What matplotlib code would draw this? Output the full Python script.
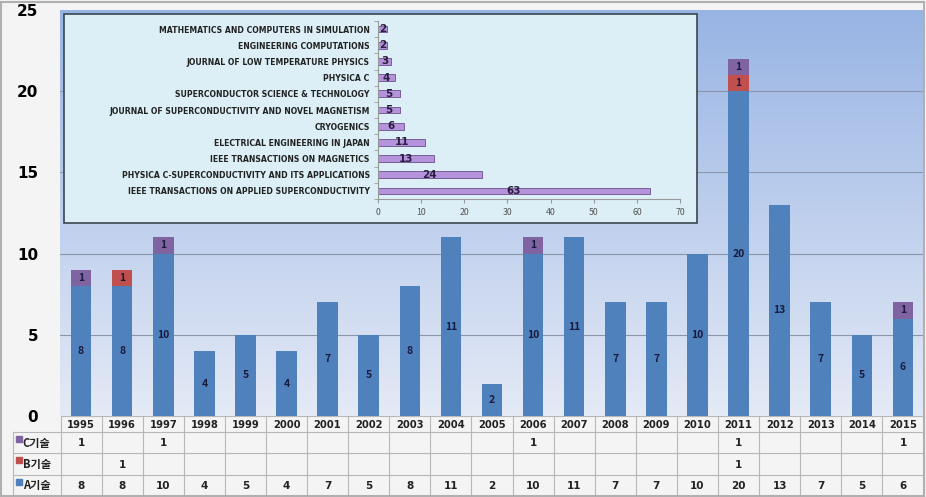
import numpy as np
import matplotlib.pyplot as plt
from matplotlib.patches import Rectangle

plt.rcParams['font.family'] = ['Noto Sans CJK KR', 'DejaVu Sans']

years = [str(y) for y in range(1995, 2016)]
a_vals = [8, 8, 10, 4, 5, 4, 7, 5, 8, 11, 2, 10, 11, 7, 7, 10, 20, 13, 7, 5, 6]
b_vals = [0, 1, 0, 0, 0, 0, 0, 0, 0, 0, 0, 0, 0, 0, 0, 0, 1, 0, 0, 0, 0]
c_vals = [1, 0, 1, 0, 0, 0, 0, 0, 0, 0, 0, 1, 0, 0, 0, 0, 1, 0, 0, 0, 1]
series_names = ['C기술', 'B기술', 'A기술']

journals = ['IEEE TRANSACTIONS ON APPLIED SUPERCONDUCTIVITY',
            'PHYSICA C-SUPERCONDUCTIVITY AND ITS APPLICATIONS',
            'IEEE TRANSACTIONS ON MAGNETICS',
            'ELECTRICAL ENGINEERING IN JAPAN',
            'CRYOGENICS',
            'JOURNAL OF SUPERCONDUCTIVITY AND NOVEL MAGNETISM',
            'SUPERCONDUCTOR SCIENCE & TECHNOLOGY',
            'PHYSICA C',
            'JOURNAL OF LOW TEMPERATURE PHYSICS',
            'ENGINEERING COMPUTATIONS',
            'MATHEMATICS AND COMPUTERS IN SIMULATION']
journal_counts = [63, 24, 13, 11, 6, 5, 5, 4, 3, 2, 2]

col_a = '#4f81bd'
col_b = '#c0504d'
col_c = '#8064a2'
txt_col = '#1a1a40'

W, H = 926, 497
fig = plt.figure(figsize=(W / 100, H / 100), dpi=100)
fig.patch.set_facecolor('#f4f4f4')
fig.patches.append(Rectangle((1 / W, 1 / H), 1 - 3 / W, 1 - 3 / H, transform=fig.transFigure,
                             fill=False, edgecolor='#b0b0b0', lw=1.5))

# main axes
x0, x1, ytop, ybot = 60.5, 923.5, 10, 416
ax = fig.add_axes([x0 / W, 1 - ybot / H, (x1 - x0) / W, (ybot - ytop) / H])
ax.set_facecolor('none')
grad = np.linspace(0, 1, 256).reshape(-1, 1)
top_rgb = np.array([0x98, 0xb4, 0xe4]) / 255
bot_rgb = np.array([0xe4, 0xea, 0xf6]) / 255
img = top_rgb * (1 - grad[..., None]) + bot_rgb * grad[..., None]
ax.imshow(img, extent=[0, 1, 0, 1], transform=ax.transAxes, aspect='auto', zorder=0)

x = np.arange(len(years))
a = np.array(a_vals)
b = np.array(b_vals)
c = np.array(c_vals)
ax.bar(x, a, 0.5, color=col_a, zorder=3)
ax.bar(x, b, 0.5, bottom=a, color=col_b, zorder=3)
ax.bar(x, c, 0.5, bottom=a + b, color=col_c, zorder=3)
for i in range(len(x)):
    ax.text(x[i], a[i] / 2, str(a[i]), ha='center', va='center', fontsize=7.5,
            fontweight='bold', color=txt_col, zorder=4)
    if b[i]:
        ax.text(x[i], a[i] + b[i] / 2, str(b[i]), ha='center', va='center', fontsize=7.5,
                fontweight='bold', color=txt_col, zorder=4)
    if c[i]:
        ax.text(x[i], a[i] + b[i] + c[i] / 2, str(c[i]), ha='center', va='center', fontsize=7.5,
                fontweight='bold', color=txt_col, zorder=4)

ax.set_xlim(-0.5, len(years) - 0.5)
ax.set_ylim(0, 25)
ax.set_yticks([0, 5, 10, 15, 20, 25])
ax.set_xticks([])
ax.tick_params(axis='y', length=0, labelsize=11, pad=16)
for lab in ax.get_yticklabels():
    lab.set_fontweight('bold')
    lab.set_fontfamily('DejaVu Sans')
for yv in [5, 10, 15, 20]:
    ax.axhline(yv, color='#8a96aa', lw=0.8, zorder=1)
for s in ax.spines.values():
    s.set_visible(False)

# data table under the axes
tax = fig.add_axes([0, 0, 1, (H - ybot) / H])
tax.set_facecolor('none')
px_per = (x1 - x0) / len(years)
tax.set_xlim((0 - x0) / px_per - 0.5, (W - x0) / px_per - 0.5)
tax.set_ylim(H - ybot, 0)
tax.axis('off')
row_edges = [0, 16, 37, 59, 80]
label_left = (13 - x0) / px_per - 0.5
gcol = '#b8b8b8'
for ye in row_edges:
    lft = -0.5 if ye == 0 else label_left
    tax.plot([lft, len(years) - 0.5], [ye, ye], color=gcol, lw=0.8)
for k in range(len(years) + 1):
    tax.plot([k - 0.5, k - 0.5], [0, 80], color=gcol, lw=0.8)
tax.plot([label_left, label_left], [16, 80], color=gcol, lw=0.8)
for i, yr in enumerate(years):
    tax.text(i, 8.5, yr, ha='center', va='center', fontsize=7.2, fontweight='bold',
             color='#222222', family='DejaVu Sans')
rows = [c_vals, b_vals, a_vals]
row_cols = [col_c, col_b, col_a]
for r in range(3):
    yc = (row_edges[r + 1] + row_edges[r + 2]) / 2
    tax.plot(label_left + 0.14, yc - 4, 's', ms=4, color=row_cols[r])
    tax.text(label_left + 0.24, yc + 0.5, series_names[r], ha='left', va='center',
             fontsize=8, fontweight='bold', color='#222222')
    for i, v in enumerate(rows[r]):
        if v:
            tax.text(i, yc + 0.5, str(v), ha='center', va='center', fontsize=7.5,
                     fontweight='bold', color='#222222', family='DejaVu Sans')

# inset with journal counts
fig.patches.append(Rectangle((64 / W, 1 - 223 / H), (697 - 64) / W, (223 - 14) / H,
                             transform=fig.transFigure, facecolor='#dceff7',
                             edgecolor='#3c4650', lw=1.2, zorder=2))
iax = fig.add_axes([378 / W, 1 - 199 / H, (680 - 378) / W, (199 - 21) / H])
iax.set_zorder(5)
iax.set_facecolor('none')
yi = np.arange(len(journals))
iax.barh(yi, journal_counts, 0.42, color='#b592dc', edgecolor='#6a4f8a', lw=0.6)
for j in range(len(journals)):
    iax.text(journal_counts[j] / 2, yi[j], str(journal_counts[j]), ha='center', va='center',
             fontsize=7.5, fontweight='bold', color='#2a1e40', family='DejaVu Sans')
iax.set_xlim(0, 70)
iax.set_ylim(-0.5, len(journals) - 0.5)
iax.set_xticks(range(0, 71, 10))
iax.set_yticks(yi)
iax.set_yticklabels(journals, fontsize=5.6, fontweight='bold', color='#222222',
                    family='DejaVu Sans')
iax.tick_params(axis='y', length=0, pad=6)
iax.tick_params(axis='x', labelsize=6.3, colors='#555555', length=3, color='#999999')
iax.set_yticks(np.arange(-0.5, len(journals), 1), minor=True)
iax.tick_params(axis='y', which='minor', length=3, color='#999999')
iax.spines['top'].set_visible(False)
iax.spines['right'].set_visible(False)
iax.spines['left'].set_color('#999999')
iax.spines['bottom'].set_color('#999999')

fig.savefig('out.png', dpi=100, facecolor=fig.get_facecolor())
